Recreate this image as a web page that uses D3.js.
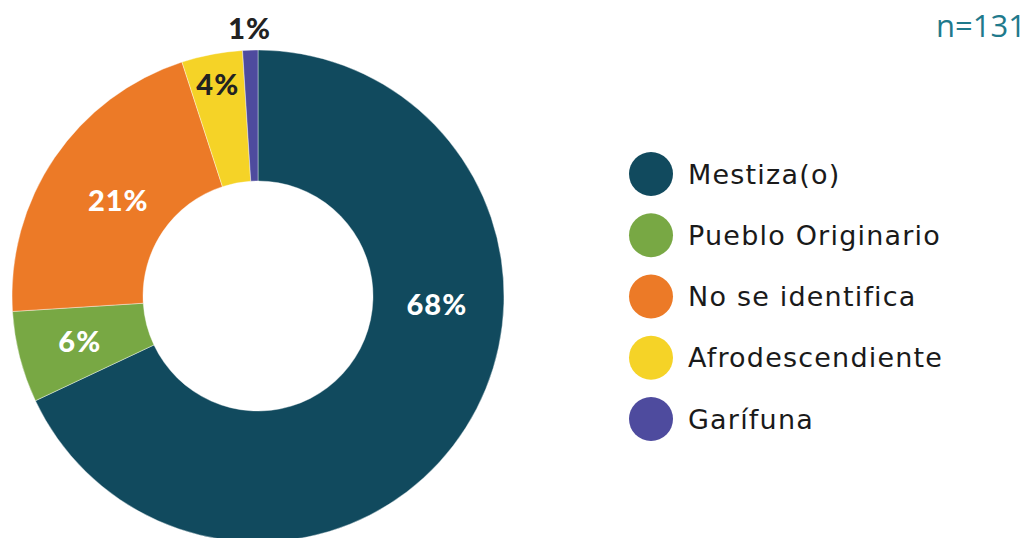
<!DOCTYPE html>
<html>
<head>
<meta charset="utf-8">
<script src="https://cdn.jsdelivr.net/npm/d3@7/dist/d3.min.js"></script>
<style>
  html, body { margin: 0; padding: 0; background: #fff; }
  svg { display: block; }
  .pct { font-family: "Lato", "Roboto", sans-serif; font-weight: 900; letter-spacing: 1px; }
  .legend-label { font-family: "DejaVu Sans", sans-serif; fill: #1a1a1a; letter-spacing: 1.2px; }
  .sample { font-family: "Open Sans", sans-serif; fill: #1f7a8c; }
</style>
</head>
<body>
<div class="chart"></div>
<script>
// data
const categories = ['Mestiza(o)', 'Pueblo Originario', 'No se identifica', 'Afrodescendiente', 'Garífuna']
const percents = [68, 6, 21, 4, 1]
const colors = ['#114a5e', '#78a844', '#ec7a27', '#f5d327', '#4e4b9e']
const labelColors = ['#fff', '#fff', '#fff', '#222', '#222']
const sampleSize = 131

// label placement (angle in degrees from top, radius in px), tweaked by hand like the original
const labelAngle = [92.6, null, null, null, null]
const labelRadius = [179, 184, 169, 215, 268]

const width = 1030, height = 538
const cx = 258, cy = 296
const outerR = 246, innerR = 115

const svg = d3.select('.chart').append('svg')
  .attr('width', width)
  .attr('height', height)

const rows = categories.map((c, i) => ({ name: c, value: percents[i], i: i }))

const pie = d3.pie()
  .value(d => d.value)
  .sort(null)

const arc = d3.arc()
  .innerRadius(innerR)
  .outerRadius(outerR)

const slices = pie(rows)

const g = svg.append('g').attr('transform', 'translate(' + cx + ',' + cy + ')')

g.selectAll('path')
  .data(slices)
  .enter()
  .append('path')
  .attr('d', arc)
  .attr('fill', d => colors[d.data.i])
  .attr('stroke', '#fff')
  .attr('stroke-width', 0.4)

// percentage labels
g.selectAll('text.pct')
  .data(slices)
  .enter()
  .append('text')
  .attr('class', 'pct')
  .attr('transform', d => {
    let a = labelAngle[d.data.i] != null ? labelAngle[d.data.i] * Math.PI / 180 : (d.startAngle + d.endAngle) / 2
    let r = labelRadius[d.data.i]
    return 'translate(' + (r * Math.sin(a)) + ',' + (-r * Math.cos(a)) + ')'
  })
  .attr('text-anchor', 'middle')
  .attr('dy', '0.36em')
  .attr('font-size', 29)
  .attr('fill', d => labelColors[d.data.i])
  .text(d => d.data.value + '%')

// legend
const legendY = d3.scalePoint()
  .domain(categories)
  .range([174, 419])

const legend = svg.append('g')

const item = legend.selectAll('g')
  .data(rows)
  .enter()
  .append('g')
  .attr('transform', d => 'translate(651,' + legendY(d.name) + ')')

item.append('circle')
  .attr('r', 22)
  .attr('fill', d => colors[d.i])

item.append('text')
  .attr('class', 'legend-label')
  .attr('x', 37)
  .attr('dy', '0.36em')
  .attr('font-size', 27)
  .text(d => d.name)

// sample size
svg.append('text')
  .attr('class', 'sample')
  .attr('x', 1026)
  .attr('y', 37)
  .attr('text-anchor', 'end')
  .attr('font-size', 31)
  .text('n=' + sampleSize)
</script>
</body>
</html>
